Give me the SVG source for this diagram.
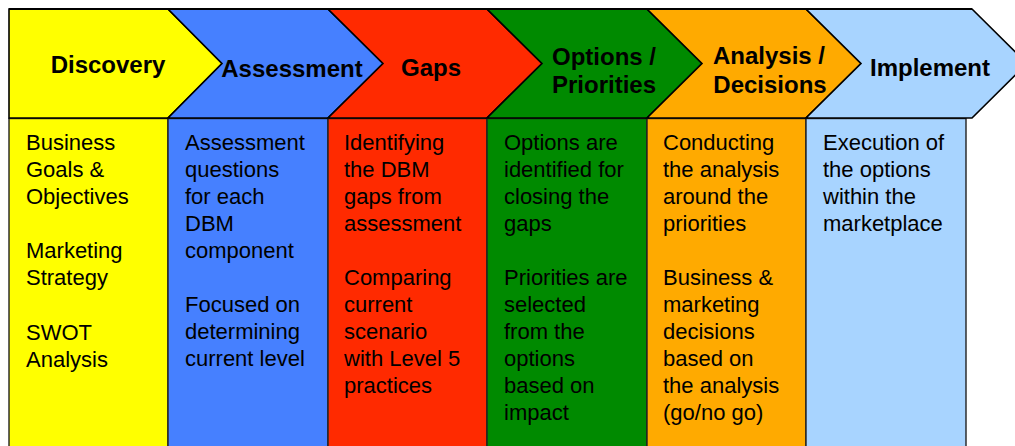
<svg xmlns="http://www.w3.org/2000/svg" width="1015" height="446" viewBox="0 0 1015 446">
  <style>
    .chev { stroke: #000; stroke-width: 1.6; stroke-linejoin: miter; }
    .col { stroke: #222; stroke-width: 1.4; }
    .head { font-family: "Liberation Sans", Arial, sans-serif; font-weight: bold; font-size: 24px; fill: #000; text-anchor: middle; }
    .body { font-family: "Liberation Sans", Arial, sans-serif; font-size: 22px; fill: #000; }
    .yellow { fill: #FFFF00; }
    .blue { fill: #4680FF; }
    .red { fill: #FF2A00; }
    .green { fill: #008A00; }
    .orange { fill: #FFAA00; }
    .lblue { fill: #A8D4FF; }
  </style>
  <rect width="1015" height="446" fill="#fff"/>

  <!-- Stage 1 -->
  <g id="discovery">
    <rect class="col yellow" x="9" y="118.5" width="159" height="340"/>
    <polygon class="chev yellow" points="9,9 168,9 222,63.5 168,118 9,118"/>
    <text class="head" x="108" y="73">Discovery</text>
    <text class="body" transform="translate(0,1.5)">
      <tspan x="26" y="148">Business</tspan>
      <tspan x="26" y="175">Goals &amp;</tspan>
      <tspan x="26" y="202">Objectives</tspan>
      <tspan x="26" y="256">Marketing</tspan>
      <tspan x="26" y="283">Strategy</tspan>
      <tspan x="26" y="338">SWOT</tspan>
      <tspan x="26" y="365">Analysis</tspan>
    </text>
  </g>

  <!-- Stage 2 -->
  <g id="assessment">
    <rect class="col blue" x="168" y="118.5" width="160" height="340"/>
    <polygon class="chev blue" points="168,9 328,9 383,63.5 328,118 168,118 222,63.5"/>
    <text class="head" x="292" y="77">Assessment</text>
    <text class="body" transform="translate(0,1.5)">
      <tspan x="185" y="148">Assessment</tspan>
      <tspan x="185" y="175">questions</tspan>
      <tspan x="185" y="202">for each</tspan>
      <tspan x="185" y="229">DBM</tspan>
      <tspan x="185" y="256">component</tspan>
      <tspan x="185" y="310">Focused on</tspan>
      <tspan x="185" y="337">determining</tspan>
      <tspan x="185" y="364">current level</tspan>
    </text>
  </g>

  <!-- Stage 3 -->
  <g id="gaps">
    <rect class="col red" x="328" y="118.5" width="159" height="340"/>
    <polygon class="chev red" points="328,9 487,9 542,63.5 487,118 328,118 383,63.5"/>
    <text class="head" x="431" y="76">Gaps</text>
    <text class="body" transform="translate(0,1.5)">
      <tspan x="344" y="148">Identifying</tspan>
      <tspan x="344" y="175">the DBM</tspan>
      <tspan x="344" y="202">gaps from</tspan>
      <tspan x="344" y="229">assessment</tspan>
      <tspan x="344" y="283">Comparing</tspan>
      <tspan x="344" y="310">current</tspan>
      <tspan x="344" y="337">scenario</tspan>
      <tspan x="344" y="364">with Level 5</tspan>
      <tspan x="344" y="391">practices</tspan>
    </text>
  </g>

  <!-- Stage 4 -->
  <g id="options-priorities">
    <rect class="col green" x="487" y="118.5" width="160" height="340"/>
    <polygon class="chev green" points="487,9 647,9 702,63.5 647,118 487,118 542,63.5"/>
    <text class="head" x="604" y="65">Options /</text>
    <text class="head" x="604" y="93">Priorities</text>
    <text class="body" transform="translate(0,1.5)">
      <tspan x="504" y="148">Options are</tspan>
      <tspan x="504" y="175">identified for</tspan>
      <tspan x="504" y="202">closing the</tspan>
      <tspan x="504" y="229">gaps</tspan>
      <tspan x="504" y="283">Priorities are</tspan>
      <tspan x="504" y="310">selected</tspan>
      <tspan x="504" y="337">from the</tspan>
      <tspan x="504" y="364">options</tspan>
      <tspan x="504" y="391">based on</tspan>
      <tspan x="504" y="418">impact</tspan>
    </text>
  </g>

  <!-- Stage 5 -->
  <g id="analysis-decisions">
    <rect class="col orange" x="647" y="118.5" width="159" height="340"/>
    <polygon class="chev orange" points="647,9 806,9 861,63.5 806,118 647,118 702,63.5"/>
    <text class="head" x="769" y="64">Analysis /</text>
    <text class="head" x="770" y="93">Decisions</text>
    <text class="body" transform="translate(0,1.5)">
      <tspan x="663" y="148">Conducting</tspan>
      <tspan x="663" y="175">the analysis</tspan>
      <tspan x="663" y="202">around the</tspan>
      <tspan x="663" y="229">priorities</tspan>
      <tspan x="663" y="283">Business &amp;</tspan>
      <tspan x="663" y="310">marketing</tspan>
      <tspan x="663" y="337">decisions</tspan>
      <tspan x="663" y="364">based on</tspan>
      <tspan x="663" y="391">the analysis</tspan>
      <tspan x="663" y="418">(go/no go)</tspan>
    </text>
  </g>

  <!-- Stage 6 -->
  <g id="implement">
    <rect class="col lblue" x="806" y="118.5" width="160" height="340"/>
    <polygon class="chev lblue" points="806,9 972,9 1027,63.5 972,118 806,118 861,63.5"/>
    <text class="head" x="930" y="76">Implement</text>
    <text class="body" transform="translate(0,1.5)">
      <tspan x="823" y="148">Execution of</tspan>
      <tspan x="823" y="175">the options</tspan>
      <tspan x="823" y="202">within the</tspan>
      <tspan x="823" y="229">marketplace</tspan>
    </text>
  </g>

  <!-- no connectors: stages abut as a chevron process bar -->
  <g id="connectors"/>

  <!-- heavier rule along the top of the chevron bar -->
  <line x1="9" y1="9" x2="972" y2="9" stroke="#000" stroke-width="2.2"/>
</svg>
